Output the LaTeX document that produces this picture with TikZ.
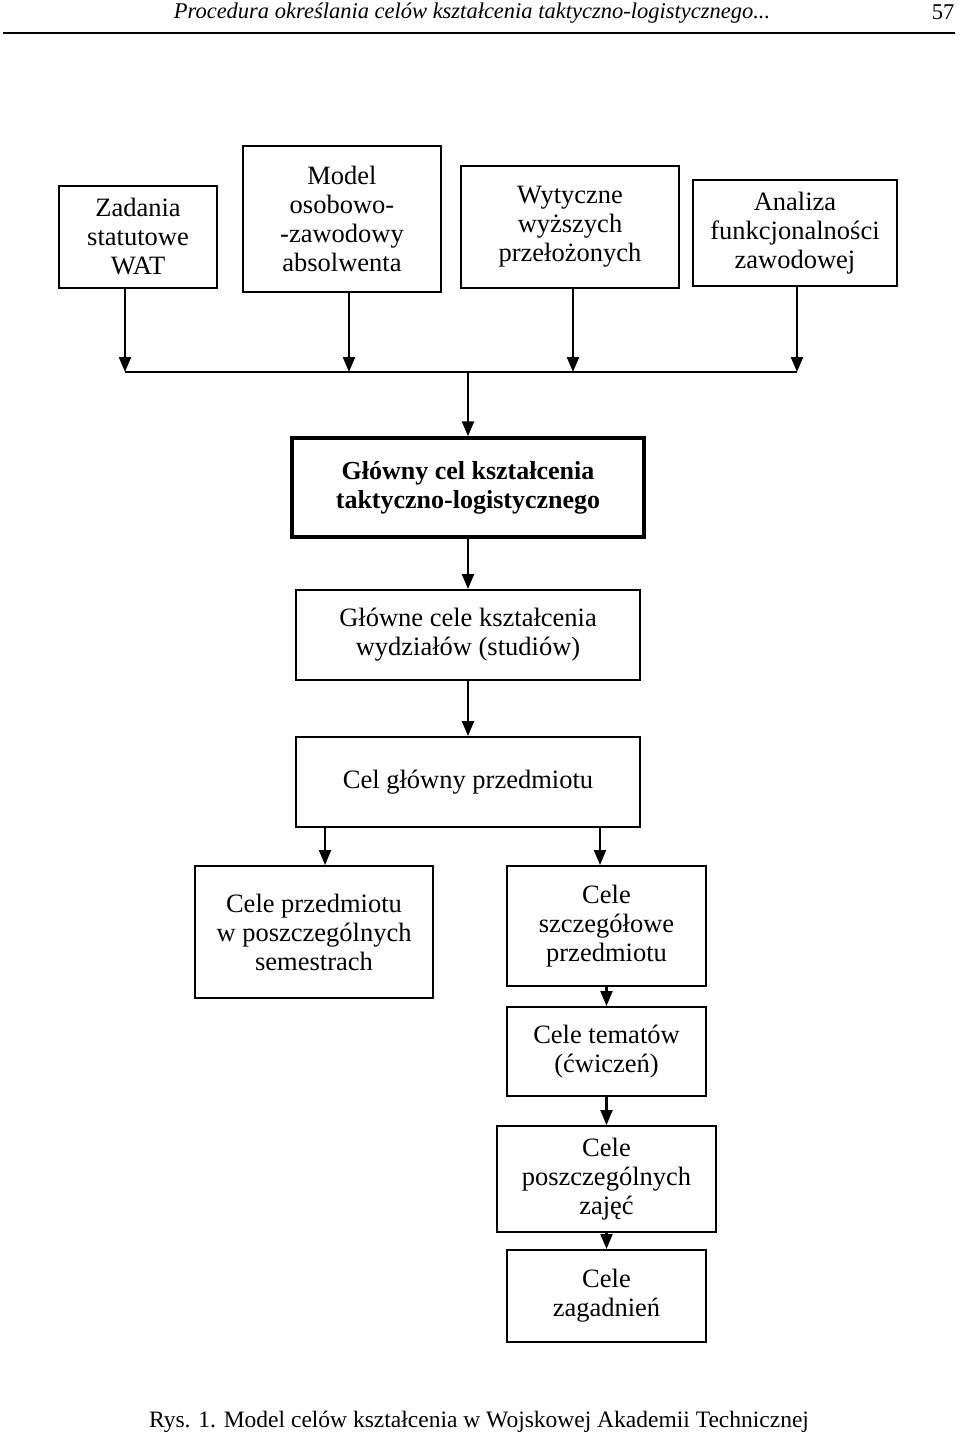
\documentclass[tikz,border=0pt]{standalone}
\usepackage{fontspec}
\setmainfont{Liberation Serif}
\usetikzlibrary{arrows.meta}
\begin{document}
\begin{tikzpicture}[x=1pt,y=-1pt,
  box/.style={draw, line width=2pt, rectangle, align=center, inner sep=0pt,
    font=\fontsize{26.5}{29}\selectfont},
  mainbox/.style={box, line width=3.5pt, font=\fontsize{26}{29}\selectfont\bfseries},
  arr/.style={line width=2.2pt, -{Triangle[length=15pt,width=12pt]}},
  ln/.style={line width=2.2pt},
  plain/.style={inner sep=0pt}]
\useasboundingbox (0,0) rectangle (960,1440);

% header
\node[plain, font=\fontsize{22.5}{25}\selectfont\itshape] (hdr) at (472,13)
  {Procedura określania celów kształcenia taktyczno-logistycznego...};
\node[plain, font=\fontsize{22.5}{25}\selectfont] (pg) at (943,12) {57};
\draw[line width=1.5pt] (3,33) -- (955,33);

% top row
\node[box, minimum width=158pt, minimum height=102pt] (b1) at (138,237) {Zadania\\statutowe\\WAT};
\node[box, minimum width=198pt, minimum height=146pt] (b2) at (342,219) {Model\\osobowo-\\-zawodowy\\absolwenta};
\node[box, minimum width=218pt, minimum height=122pt] (b3) at (570,227) {Wytyczne\\wyższych\\przełożonych};
\node[box, minimum width=204pt, minimum height=106pt] (b4) at (795,233) {Analiza\\funkcjonalności\\zawodowej};

\coordinate (j1) at (125,372);
\coordinate (j2) at (349,372);
\coordinate (j3) at (573,372);
\coordinate (j4) at (797,372);
\coordinate (jc) at (468,372);

\draw[arr] (b1.south -| j1) -- (j1);
\draw[arr] (b2.south -| j2) -- (j2);
\draw[arr] (b3.south -| j3) -- (j3);
\draw[arr] (b4.south -| j4) -- (j4);
\draw[ln] (j1) -- (j4);

% main
\node[mainbox, minimum width=352pt, minimum height=99pt] (main) at (468,487.5)
  {Główny cel kształcenia\\taktyczno-logistycznego};
\draw[arr] (jc) -- (main.north);

\node[box, minimum width=344pt, minimum height=90pt] (gc) at (468,635)
  {Główne cele kształcenia\\wydziałów (studiów)};
\draw[arr] (main.south) -- (gc.north);

\node[box, minimum width=344pt, minimum height=90pt] (cg) at (468,782)
  {Cel główny przedmiotu};
\draw[arr] (gc.south) -- (cg.north);

\node[box, minimum width=238pt, minimum height=132pt] (cp) at (314,932)
  {Cele przedmiotu\\w poszczególnych\\semestrach};
\node[box, minimum width=199pt, minimum height=120pt] (cs) at (606.5,926)
  {Cele\\szczegółowe\\przedmiotu};
\coordinate (t1) at ([xshift=11pt]cp.north);
\coordinate (t2) at ([xshift=-6.5pt]cs.north);
\draw[arr] (cg.south -| t1) -- (t1);
\draw[arr] (cg.south -| t2) -- (t2);

\node[box, minimum width=199pt, minimum height=89pt] (ct) at (606.5,1051.5)
  {Cele tematów\\(ćwiczeń)};
\draw[arr] (cs.south) -- (ct.north);

\node[box, minimum width=219pt, minimum height=106pt] (cz) at (606.5,1179)
  {Cele\\poszczególnych\\zajęć};
\draw[arr] (ct.south) -- (cz.north);

\node[box, minimum width=199pt, minimum height=92pt] (ca) at (606.5,1296)
  {Cele\\zagadnień};
\draw[arr] (cz.south) -- (ca.north);

% caption
\node[plain, font=\fontsize{23.5}{26}\selectfont] (cap) at (479,1422)
  {Rys. 1. Model celów kształcenia w Wojskowej Akademii Technicznej};
\end{tikzpicture}
\end{document}
